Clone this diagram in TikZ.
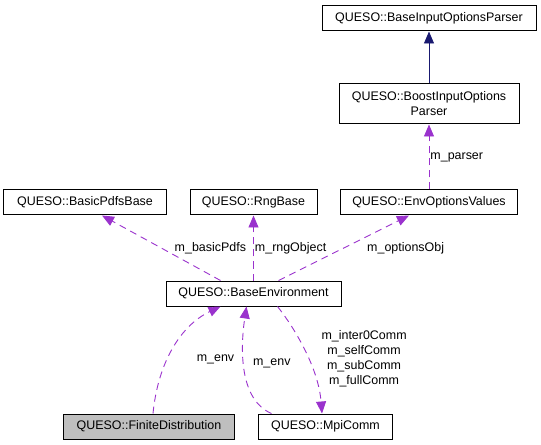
\documentclass[tikz,border=0pt]{standalone}
\usepackage{fontspec}
\setmainfont{Liberation Sans}
\usepackage{tikz}
\usetikzlibrary{arrows.meta}
\usetikzlibrary{positioning}
\definecolor{usepurple}{HTML}{9A32CD}
\definecolor{inhnavy}{HTML}{191970}
\definecolor{leafgray}{HTML}{BFBFBF}

\begin{document}
\begin{tikzpicture}[x=1bp,y=-1bp]
  \tikzset{cls/.style = {shape=rectangle,draw,line width=1bp,minimum height=25bp,inner sep=2bp,font=\fontsize{12.5}{15}\selectfont}}
    \tikzset{leafcls/.style = {cls, fill=leafgray}}
  \tikzset{lbl/.style = {inner sep=1bp,font=\fontsize{12.5}{15}\selectfont}}
  \tikzset{%
  tipA/.tip={Triangle[length=12bp,width=10bp]},
}
  \tikzset{inherit/.style = {-tipA, draw=inhnavy, line width=0.9bp}}
  \tikzset{usage/.style = {-tipA, draw=usepurple, line width=0.9bp, dash pattern=on 7bp off 5bp}}

  \useasboundingbox (0,0) rectangle (541,445);

	\node[cls, minimum width=214bp] (BIOP) at (429,18.5) {QUESO::BaseInputOptionsParser};
	\node[cls, minimum width=180bp, minimum height=40bp, align=center] (BoostIOP) at (429,104) {QUESO::BoostInputOptions\\Parser};
	
	\node[cls, minimum width=162bp] (BPB) at (85,202.5) {QUESO::BasicPdfsBase};
	\node[cls, minimum width=127bp] (Rng) at (253.5,202.5) {QUESO::RngBase};
	\node[cls, minimum width=177bp] (EOV) at (429,202.5) {QUESO::EnvOptionsValues};
	
	\node[cls, minimum width=175bp] (BE) at (253.5,293.5) {QUESO::BaseEnvironment};
	
	\node[leafcls, minimum width=171bp] (FD) at (149,426.5) {QUESO::FiniteDistribution};
	\node[cls, minimum width=134bp] (MC) at (325.5,426.5) {QUESO::MpiComm};
	
    \draw[inherit] (BoostIOP.north) -- (BIOP.south);
    
    \draw[usage] (EOV.north) -- (BoostIOP.south) node[lbl, pos=.5, right] {m\_parser};
    \draw[usage] ([xshift=-33bp]BE.north) -- ([xshift=17bp]BPB.south) node[lbl, pos=.5, right=12bp] {m\_basicPdfs};
    \draw[usage] (BE.north) -- (Rng.south) node[lbl, pos=.5, right] {m\_rngObject};
    \draw[usage] ([xshift=25bp]BE.north) -- ([xshift=-20bp]EOV.south) node[lbl, pos=.5, right=22bp] {m\_optionsObj};
    
    \draw[usage] ([xshift=4bp]FD.north) .. controls +(5,-51) and +(-40,19) .. ([xshift=-33bp]BE.south) node[lbl, pos=.4, right=28bp] {m\_env};
    \draw[usage] ([xshift=-54bp]MC.north) .. controls +(-33,-14) and +(-6,40) .. ([xshift=-7bp]BE.south) node[lbl, pos=.55, right=8bp] {m\_env};
    \draw[usage] ([xshift=24bp]BE.south) .. controls +(12,15) and +(-4,-50) .. ([xshift=-3.5bp]MC.north) node[lbl, pos=.6, right=12bp, align=center] {m\_inter0Comm\\m\_selfComm\\m\_subComm\\m\_fullComm};

\end{tikzpicture}
\end{document}
